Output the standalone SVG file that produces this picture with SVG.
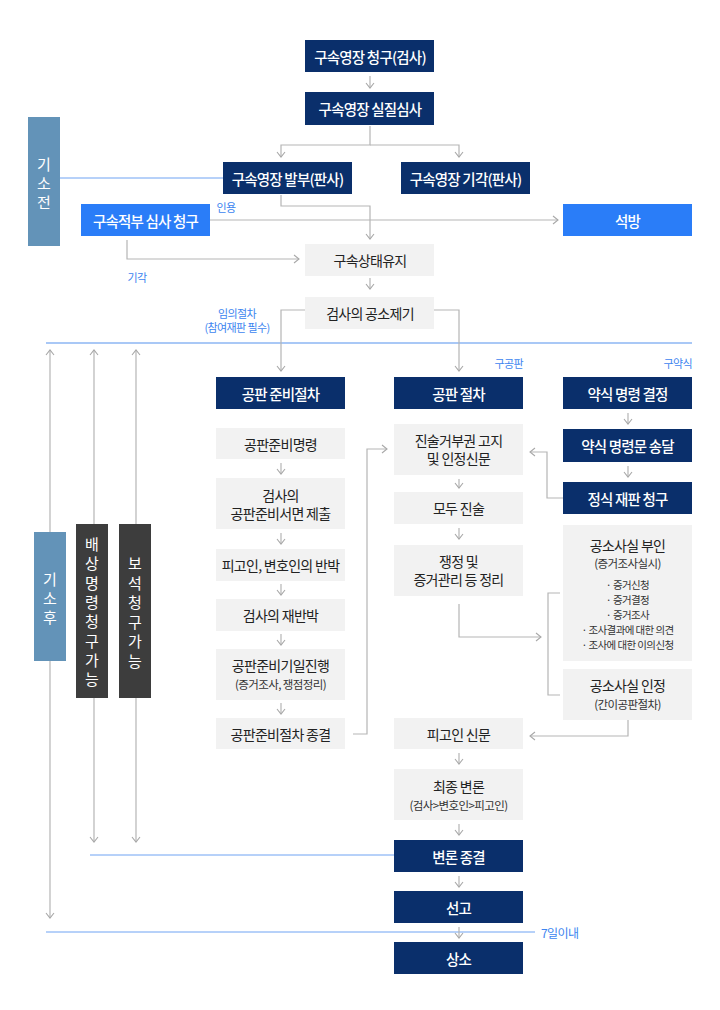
<svg xmlns="http://www.w3.org/2000/svg" width="720" height="1010" viewBox="0 0 720 1010">
<style>
.n{fill:#0a2f6b}
.g{fill:#f2f2f2}
.b{fill:#2a7df8}
.s{fill:#6393b8}
.d{fill:#3d3d3d}
text{font-family:"Noto Sans CJK KR","Noto Sans",sans-serif;text-anchor:middle;dominant-baseline:central}
.tw{fill:#fff;font-size:14.5px;font-weight:500;letter-spacing:-0.8px}
.tg{fill:#222;font-size:14px;font-weight:400;letter-spacing:-0.7px}
.ts{fill:#333;font-size:11.5px;letter-spacing:-0.6px}
.tb{fill:#333;font-size:10.5px;letter-spacing:-0.6px}
.tl{fill:#3d85f0;font-size:11px;letter-spacing:-0.6px}
.tv{fill:#fff;font-size:15px;font-weight:400}
.c{fill:none;stroke:#b5b5b5;stroke-width:1.2}
.bl{fill:none;stroke:#6fa3f3;stroke-width:1}
</style>
<defs>
<marker id="a" viewBox="-6 -5 7 10" refX="0" refY="0" markerWidth="7" markerHeight="10" markerUnits="userSpaceOnUse" orient="auto-start-reverse">
<path d="M-5,-4 L0,0 L-5,4" fill="none" stroke="#a8a8a8" stroke-width="1.1"/>
</marker>
</defs>
<rect width="720" height="1010" fill="#fff"/>

<g id="lines">
<path class="bl" d="M60,178 H223"/>
<path d="M46,343 H692" fill="none" stroke="#a9c8f6" stroke-width="2"/>
<path class="bl" d="M90,855 H394"/>
<path class="bl" d="M46,932 H535"/>
</g>

<g id="connectors">
<path class="c" d="M370,76 V88" marker-end="url(#a)"/>
<path class="c" d="M370,126 V145 H281 V157" marker-end="url(#a)"/>
<path class="c" d="M370,145 H459 V157" marker-end="url(#a)"/>
<path class="c" d="M281,195 V206 H370 V239" marker-end="url(#a)"/>
<path class="c" d="M210,220 H558" marker-end="url(#a)"/>
<path class="c" d="M127,240 V259 H299" marker-end="url(#a)"/>
<path class="c" d="M370,278 V289" marker-end="url(#a)"/>
<path class="c" d="M305,310 H281 V371" marker-end="url(#a)"/>
<path class="c" d="M434,310 H459 V371" marker-end="url(#a)"/>
<path class="c" d="M50,350 V918" marker-start="url(#a)" marker-end="url(#a)"/>
<path class="c" d="M94,350 V842" marker-start="url(#a)" marker-end="url(#a)"/>
<path class="c" d="M136,350 V842" marker-start="url(#a)" marker-end="url(#a)"/>
<path class="c" d="M281,463 V474" marker-end="url(#a)"/>
<path class="c" d="M281,533 V544" marker-end="url(#a)"/>
<path class="c" d="M281,584 V595" marker-end="url(#a)"/>
<path class="c" d="M281,634 V645" marker-end="url(#a)"/>
<path class="c" d="M281,703 V714" marker-end="url(#a)"/>
<path class="c" d="M459,479 V488" marker-end="url(#a)"/>
<path class="c" d="M459,528 V539" marker-end="url(#a)"/>
<path class="c" d="M459,753 V764" marker-end="url(#a)"/>
<path class="c" d="M459,824 V835" marker-end="url(#a)"/>
<path class="c" d="M459,876 V887" marker-end="url(#a)"/>
<path class="c" d="M459,927 V938" marker-end="url(#a)"/>
<path class="c" d="M628,413 V424" marker-end="url(#a)"/>
<path class="c" d="M628,466 V477" marker-end="url(#a)"/>
<path class="c" d="M353,734 H367 V449 H387" marker-end="url(#a)"/>
<path class="c" d="M563,498 H547 V452 H530" marker-end="url(#a)"/>
<path class="c" d="M459,604 V637 H541" marker-end="url(#a)"/>
<path class="c" d="M560,593 H548 V695 H560"/>
<path class="c" d="M628,720 V736 H530" marker-end="url(#a)"/>
</g>

<g id="labels">
<text class="tl" x="226" y="207">인용</text>
<text class="tl" x="137" y="277">기각</text>
<text class="tl" x="237" y="313">임의절차</text>
<text class="tl" x="237" y="327">(참여재판 필수)</text>
<text class="tl" x="523" y="363" style="text-anchor:end">구공판</text>
<text class="tl" x="692" y="363" style="text-anchor:end">구약식</text>
<text class="tl" x="541" y="932" style="text-anchor:start;font-size:12px">7일이내</text>
</g>

<g id="n-req"><rect class="n" x="305" y="40" width="129" height="32"/><text class="tw" x="370" y="56">구속영장 청구(검사)</text></g>
<g id="n-exam"><rect class="n" x="305" y="92" width="129" height="33"/><text class="tw" x="370" y="108.5">구속영장 실질심사</text></g>
<g id="n-issue"><rect class="n" x="223" y="162" width="129" height="32"/><text class="tw" x="287.5" y="178">구속영장 발부(판사)</text></g>
<g id="n-reject"><rect class="n" x="401" y="162" width="129" height="32"/><text class="tw" x="465.5" y="178">구속영장 기각(판사)</text></g>
<g id="n-pre"><rect class="s" x="28" y="117" width="32" height="129"/><text class="tv" x="44"><tspan x="44" y="163">기</tspan><tspan x="44" y="182">소</tspan><tspan x="44" y="201">전</tspan></text></g>
<g id="n-review"><rect class="b" x="81" y="204" width="129" height="32"/><text class="tw" x="145.5" y="220">구속적부 심사 청구</text></g>
<g id="n-release"><rect class="b" x="563" y="204" width="129" height="32"/><text class="tw" x="627.5" y="220">석방</text></g>
<g id="n-keep"><rect class="g" x="305" y="244" width="129" height="32"/><text class="tg" x="370" y="260">구속상태유지</text></g>
<g id="n-indict"><rect class="g" x="305" y="297" width="129" height="32"/><text class="tg" x="370" y="313">검사의 공소제기</text></g>

<g id="n-post"><rect class="s" x="34" y="532" width="32" height="129"/><text class="tv" x="50"><tspan x="50" y="578">기</tspan><tspan x="50" y="597">소</tspan><tspan x="50" y="616">후</tspan></text></g>
<g id="n-comp"><rect class="d" x="76" y="524" width="32" height="174"/><text class="tv" x="92"><tspan x="92" y="543">배</tspan><tspan x="92" y="562.3">상</tspan><tspan x="92" y="581.6">명</tspan><tspan x="92" y="600.9">령</tspan><tspan x="92" y="620.2">청</tspan><tspan x="92" y="639.5">구</tspan><tspan x="92" y="658.8">가</tspan><tspan x="92" y="678.1">능</tspan></text></g>
<g id="n-bail"><rect class="d" x="119" y="524" width="32" height="174"/><text class="tv" x="135"><tspan x="135" y="562">보</tspan><tspan x="135" y="581.5">석</tspan><tspan x="135" y="601">청</tspan><tspan x="135" y="620.5">구</tspan><tspan x="135" y="640">가</tspan><tspan x="135" y="659.5">능</tspan></text></g>

<g id="n-prep"><rect class="n" x="216" y="377" width="129" height="32"/><text class="tw" x="280.5" y="393">공판 준비절차</text></g>
<g id="n-prep1"><rect class="g" x="216" y="428" width="129" height="31"/><text class="tg" x="280.5" y="443.5">공판준비명령</text></g>
<g id="n-prep2"><rect class="g" x="216" y="478" width="129" height="51"/><text class="tg" x="280.5" y="494.5">검사의</text><text class="tg" x="280.5" y="512.5">공판준비서면 제출</text></g>
<g id="n-prep3"><rect class="g" x="216" y="549" width="129" height="32"/><text class="tg" x="280.5" y="565">피고인, 변호인의 반박</text></g>
<g id="n-prep4"><rect class="g" x="216" y="599" width="129" height="32"/><text class="tg" x="280.5" y="615">검사의 재반박</text></g>
<g id="n-prep5"><rect class="g" x="216" y="649" width="129" height="51"/><text class="tg" x="280.5" y="665">공판준비기일진행</text><text class="ts" x="280.5" y="684">(증거조사, 쟁점정리)</text></g>
<g id="n-prep6"><rect class="g" x="216" y="718" width="129" height="31"/><text class="tg" x="280.5" y="733.5">공판준비절차 종결</text></g>

<g id="n-trial"><rect class="n" x="394" y="377" width="129" height="32"/><text class="tw" x="458.5" y="393">공판 절차</text></g>
<g id="n-tr1"><rect class="g" x="394" y="424" width="129" height="51"/><text class="tg" x="458.5" y="440">진술거부권 고지</text><text class="tg" x="458.5" y="458">및 인정신문</text></g>
<g id="n-tr2"><rect class="g" x="394" y="492" width="129" height="32"/><text class="tg" x="458.5" y="508">모두 진술</text></g>
<g id="n-tr3"><rect class="g" x="394" y="545" width="129" height="51"/><text class="tg" x="458.5" y="561">쟁정 및</text><text class="tg" x="458.5" y="579">증거관리 등 정리</text></g>
<g id="n-tr4"><rect class="g" x="394" y="718" width="129" height="31"/><text class="tg" x="458.5" y="733.5">피고인 신문</text></g>
<g id="n-tr5"><rect class="g" x="394" y="769" width="129" height="51"/><text class="tg" x="458.5" y="786">최종 변론</text><text class="ts" x="458.5" y="805">(검사&gt;변호인&gt;피고인)</text></g>
<g id="n-tr6"><rect class="n" x="394" y="840" width="129" height="32"/><text class="tw" x="458.5" y="856">변론 종결</text></g>
<g id="n-tr7"><rect class="n" x="394" y="891" width="129" height="32"/><text class="tw" x="458.5" y="907">선고</text></g>
<g id="n-tr8"><rect class="n" x="394" y="942" width="129" height="32"/><text class="tw" x="458.5" y="958">상소</text></g>

<g id="n-sum1"><rect class="n" x="563" y="377" width="129" height="32"/><text class="tw" x="627.5" y="393">약식 명령 결정</text></g>
<g id="n-sum2"><rect class="n" x="563" y="429" width="129" height="33"/><text class="tw" x="627.5" y="445.5">약식 명령문 송달</text></g>
<g id="n-sum3"><rect class="n" x="563" y="482" width="129" height="32"/><text class="tw" x="627.5" y="498">정식 재판 청구</text></g>
<g id="n-deny"><rect class="g" x="563" y="525" width="129" height="136"/><text class="tg" x="627.5" y="545">공소사실 부인</text><text class="ts" x="627.5" y="563">(증거조사실시)</text><text class="tb" x="627.5" y="584">· 증거신청</text><text class="tb" x="627.5" y="599">· 증거결정</text><text class="tb" x="627.5" y="614">· 증거조사</text><text class="tb" x="627.5" y="629">· 조사결과에 대한 의견</text><text class="tb" x="627.5" y="644">· 조사에 대한 이의신청</text></g>
<g id="n-admit"><rect class="g" x="563" y="669" width="129" height="51"/><text class="tg" x="627.5" y="685">공소사실 인정</text><text class="ts" x="627.5" y="704">(간이공판절차)</text></g>
</svg>
